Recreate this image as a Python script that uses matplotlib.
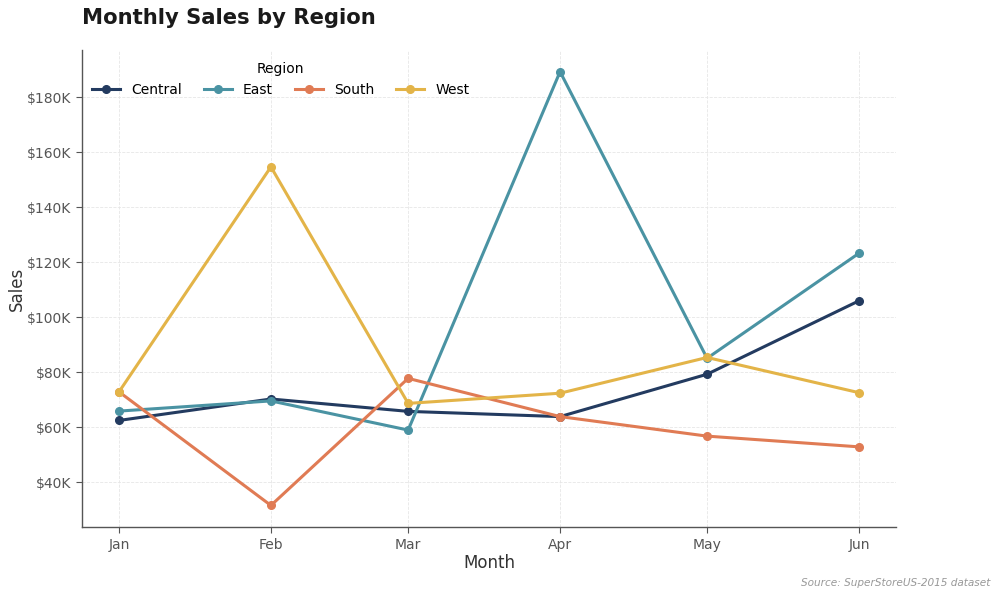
import matplotlib
matplotlib.use("Agg")
import matplotlib.pyplot as plt
import matplotlib.dates as mdates
from matplotlib.ticker import FuncFormatter
import pandas as pd

# data (sales in $K)
months = pd.to_datetime(["2015-01-01", "2015-02-01", "2015-03-01",
                         "2015-04-01", "2015-05-01", "2015-06-01"])
central = [62.5, 70.3, 65.8, 63.9, 79.3, 106.0]
east = [65.9, 69.6, 59.0, 189.3, 85.1, 123.3]
south = [72.9, 31.6, 77.8, 63.9, 56.8, 52.9]
west = [72.9, 154.7, 68.7, 72.4, 85.4, 72.6]

regions = ["Central", "East", "South", "West"]
series = [central, east, south, west]
colors = ["#233b60", "#4a93a3", "#e07b54", "#e3b448"]

fig = plt.figure(figsize=(10, 5.99), dpi=100)
ax = fig.add_axes([0.082, 0.120, 0.814, 0.7965])

for name, vals, c in zip(regions, series, colors):
    ax.plot(months, [v * 1000 for v in vals], color=c, lw=2.2,
            marker="o", ms=5.5, label=name)

ax.xaxis.set_major_locator(mdates.MonthLocator())
ax.xaxis.set_major_formatter(mdates.DateFormatter("%b"))
ax.yaxis.set_major_formatter(FuncFormatter(lambda v, p: f"${v/1000:.0f}K"))

ax.grid(True, ls="--", lw=0.6, color="#e6e6e6")
ax.set_axisbelow(True)
for s in ["top", "right"]:
    ax.spines[s].set_visible(False)
for s in ["left", "bottom"]:
    ax.spines[s].set_color("#555555")
    ax.spines[s].set_linewidth(1.0)
ax.tick_params(colors="#555555", labelsize=10, length=4)

ax.set_xlabel("Month", fontsize=12, color="#333333", labelpad=2)
ax.set_ylabel("Sales", fontsize=12, color="#333333", labelpad=1)

leg = ax.legend(title="Region", ncol=4, frameon=False, loc="upper left",
                bbox_to_anchor=(-0.003, 1.002), fontsize=10, title_fontsize=10,
                handlelength=2.0, columnspacing=1.6)

fig.text(0.082, 0.97, "Monthly Sales by Region", fontsize=15.2,
         fontweight="bold", color="#1a1a1a", va="center", ha="left")
fig.text(0.99, 0.026, "Source: SuperStoreUS-2015 dataset", fontsize=7.6,
         style="italic", color="#999999", ha="right", va="center")

fig.savefig("out.png", dpi=100)
